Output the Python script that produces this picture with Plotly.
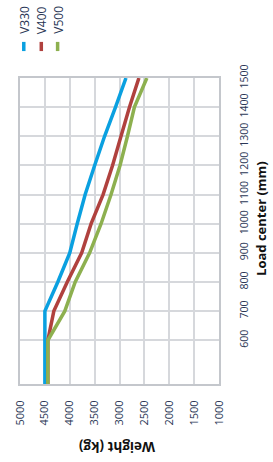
import plotly.graph_objects as go

load_center = [450, 600, 700, 800, 900, 1000, 1100, 1200, 1300, 1400, 1500]
v330 = [4500, 4500, 4500, 4240, 4000, 3850, 3690, 3500, 3300, 3080, 2870]
v400 = [4440, 4440, 4320, 4050, 3760, 3570, 3330, 3140, 2970, 2800, 2610]
v500 = [4440, 4440, 4100, 3890, 3600, 3370, 3170, 2990, 2840, 2700, 2450]

series_names = ["V330", "V400", "V500"]
series_values = [v330, v400, v500]
colors = ["#0aa0e0", "#b0413e", "#8db04f"]

weight_ticks = [5000, 4500, 4000, 3500, 3000, 2500, 2000, 1500, 1000]
load_ticks = [600, 700, 800, 900, 1000, 1100, 1200, 1300, 1400, 1500]

FONT = "Open Sans"
TICK_COLOR = "#2b3756"

fig = go.Figure()
for name, vals, col in zip(series_names, series_values, colors):
    fig.add_trace(go.Scatter(x=vals, y=load_center, mode="lines", name=name,
                             line=dict(color=col, width=3.5), showlegend=False))

fig.update_layout(
    width=273, height=462,
    margin=dict(l=13, r=54, t=78, b=78),
    paper_bgcolor="white", plot_bgcolor="white",
    font=dict(family=FONT, color=TICK_COLOR, size=10),
    xaxis=dict(range=[5000, 1000], tickvals=weight_ticks, tickangle=-90,
               showgrid=True, gridcolor="#d6d8dc", gridwidth=1.8,
               showline=True, linecolor="#c4c7cc", linewidth=2, mirror=True,
               ticks="", zeroline=False, ticklabelstandoff=10,
               tickfont=dict(size=11, color=TICK_COLOR)),
    yaxis=dict(range=[450, 1500], tickvals=load_ticks, tickangle=-90, side="right",
               showgrid=True, gridcolor="#d6d8dc", gridwidth=1.8,
               showline=True, linecolor="#c4c7cc", linewidth=2, mirror=True,
               ticks="", zeroline=False, ticklabelstandoff=14,
               tickfont=dict(size=10.5, color=TICK_COLOR)),
)

annotations = [
    dict(text="<b>Load center (mm)</b>", textangle=-90, xref="paper", yref="paper",
         x=1.21, y=0.542, xanchor="center", yanchor="middle", showarrow=False,
         font=dict(family=FONT, size=13, color="#111111")),
    dict(text="<b>Weight (kg)</b>", textangle=180, xref="paper", yref="paper",
         x=0.485, y=-0.206, xanchor="center", yanchor="middle", showarrow=False,
         font=dict(family=FONT, size=13.5, color="#111111")),
]
legend_x = [0.019, 0.107, 0.189]
shapes = []
for name, col, lx in zip(series_names, colors, legend_x):
    annotations.append(dict(text=name, textangle=-90, xref="paper", yref="paper",
                            x=lx, y=1.137, xanchor="center", yanchor="bottom",
                            showarrow=False, font=dict(family=FONT, size=12, color=TICK_COLOR)))
    shapes.append(dict(type="line", xref="paper", yref="paper", x0=lx, x1=lx,
                       y0=1.088, y1=1.118, line=dict(color=col, width=3.5)))

fig.update_layout(annotations=annotations, shapes=shapes)
fig.write_html("out.html", config={"displayModeBar": False},
               post_script="document.body.style.margin='0px';")
